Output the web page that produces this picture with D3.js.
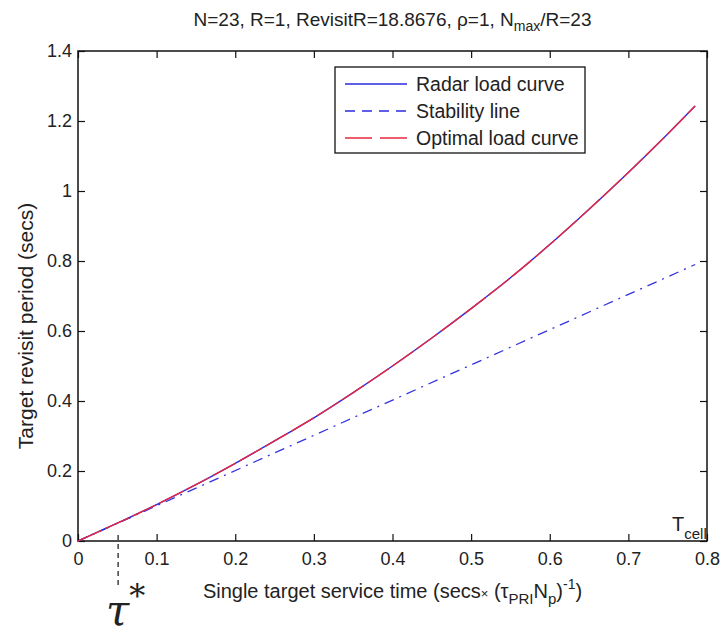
<!DOCTYPE html>
<html>
<head>
<meta charset="utf-8">
<script src="https://cdn.jsdelivr.net/npm/d3@7"></script>
<style>
  body { margin: 0; background: #fff; }
  svg text { font-family: "Liberation Sans", Arial, sans-serif; fill: #222; }
</style>
</head>
<body>
<div id="vis"></div>
<script>
// Values
const RADAR_X = [0, 0.05, 0.1, 0.15, 0.2, 0.25, 0.3, 0.35, 0.4, 0.45, 0.5, 0.55, 0.6, 0.65, 0.7, 0.75, 0.785];
const RADAR_Y = [0, 0.051, 0.104, 0.161, 0.222, 0.286, 0.352, 0.424, 0.5, 0.58, 0.664, 0.752, 0.847, 0.948, 1.053, 1.163, 1.243];
const OPTIMAL_Y = [0, 0.051, 0.104, 0.161, 0.222, 0.286, 0.352, 0.424, 0.5, 0.58, 0.664, 0.752, 0.847, 0.948, 1.053, 1.163, 1.243];
const STABILITY_X = [0, 0.785];
const STABILITY_Y = [0, 0.79];
const X_TICKS = [0, 0.1, 0.2, 0.3, 0.4, 0.5, 0.6, 0.7, 0.8];
const Y_TICKS = [0, 0.2, 0.4, 0.6, 0.8, 1, 1.2, 1.4];
const TAU_STAR = 0.051;
const LEGEND_LABELS = ["Radar load curve", "Stability line", "Optimal load curve"];

// Frame and margins
const FRAME_WIDTH = 725;
const FRAME_HEIGHT = 636;
const MARGINS = {left: 78, right: 18, top: 51, bottom: 95};
const VIS_WIDTH = FRAME_WIDTH - MARGINS.left - MARGINS.right;
const VIS_HEIGHT = FRAME_HEIGHT - MARGINS.top - MARGINS.bottom;

const FRAME = d3.select("#vis")
  .append("svg")
    .attr("width", FRAME_WIDTH)
    .attr("height", FRAME_HEIGHT);

const X_SCALE = d3.scaleLinear().domain([0, 0.8]).range([0, VIS_WIDTH]);
const Y_SCALE = d3.scaleLinear().domain([0, 1.4]).range([VIS_HEIGHT, 0]);

const PLOT = FRAME.append("g")
  .attr("transform", "translate(" + MARGINS.left + "," + MARGINS.top + ")");

// Axes with inward ticks, mirrored on top and right (matlab box)
function styleAxis(g) {
  g.select(".domain").remove();
  g.selectAll(".tick line").attr("stroke", "#111").attr("stroke-width", 1.2);
  g.selectAll(".tick text").style("font-size", "18px").attr("fill", "#222");
}

PLOT.append("g")
  .attr("transform", "translate(0," + VIS_HEIGHT + ")")
  .call(d3.axisBottom(X_SCALE).tickValues(X_TICKS).tickSize(-7).tickPadding(11).tickFormat(d3.format("")))
  .call(styleAxis);

PLOT.append("g")
  .call(d3.axisLeft(Y_SCALE).tickValues(Y_TICKS).tickSize(-7).tickPadding(6).tickFormat(d3.format("")))
  .call(styleAxis);

PLOT.append("g")
  .call(d3.axisTop(X_SCALE).tickValues(X_TICKS).tickSize(-7).tickFormat(""))
  .call(styleAxis);

PLOT.append("g")
  .attr("transform", "translate(" + VIS_WIDTH + ",0)")
  .call(d3.axisRight(Y_SCALE).tickValues(Y_TICKS).tickSize(-7).tickFormat(""))
  .call(styleAxis);

PLOT.append("rect")
  .attr("width", VIS_WIDTH)
  .attr("height", VIS_HEIGHT)
  .attr("fill", "none")
  .attr("stroke", "#111")
  .attr("stroke-width", 1.5);

// Lines
const line = d3.line()
  .x((d) => X_SCALE(d[0]))
  .y((d) => Y_SCALE(d[1]));

const curve = d3.line()
  .curve(d3.curveMonotoneX)
  .x((d) => X_SCALE(d[0]))
  .y((d) => Y_SCALE(d[1]));

const radar = RADAR_X.map((x, i) => [x, RADAR_Y[i]]);
const optimal = RADAR_X.map((x, i) => [x, OPTIMAL_Y[i]]);
const stability = STABILITY_X.map((x, i) => [x, STABILITY_Y[i]]);

PLOT.append("path")
  .datum(stability)
  .attr("d", line)
  .attr("fill", "none")
  .attr("stroke", "#3535e0")
  .attr("stroke-width", 1.3)
  .attr("stroke-dasharray", "10,6,2,6");

PLOT.append("path")
  .datum(radar)
  .attr("d", curve)
  .attr("fill", "none")
  .attr("stroke", "#2a2ae0")
  .attr("stroke-width", 1.4);

PLOT.append("path")
  .datum(optimal)
  .attr("d", curve)
  .attr("fill", "none")
  .attr("stroke", "#e8283c")
  .attr("stroke-width", 1.4)
  .attr("stroke-dasharray", "26,4");

// Legend
const LEG = FRAME.append("g").attr("transform", "translate(335,67)");
LEG.append("rect")
  .attr("width", 250)
  .attr("height", 86)
  .attr("fill", "#fff")
  .attr("stroke", "#111")
  .attr("stroke-width", 1.3);

const legendStyles = [
  {color: "#2a2ae0", dash: null},
  {color: "#2a2ae0", dash: "10,7"},
  {color: "#e8283c", dash: "27,8"}
];

LEGEND_LABELS.forEach((label, i) => {
  const y = 17 + i * 27;
  LEG.append("line")
    .attr("x1", 10).attr("x2", 72)
    .attr("y1", y).attr("y2", y)
    .attr("stroke", legendStyles[i].color)
    .attr("stroke-width", 1.3)
    .attr("stroke-dasharray", legendStyles[i].dash);
  LEG.append("text")
    .attr("x", 81)
    .attr("y", y + 7)
    .style("font-size", "19.5px")
    .text(label);
});

// Title
const title = FRAME.append("text")
  .attr("x", MARGINS.left + VIS_WIDTH / 2)
  .attr("y", 26)
  .attr("text-anchor", "middle")
  .style("font-size", "19px");
title.append("tspan").text("N=23, R=1, RevisitR=18.8676, \u03c1=1, N");
title.append("tspan").attr("dy", 5).style("font-size", "14px").text("max");
title.append("tspan").attr("dy", -5).text("/R=23");

// x axis label
const xlab = FRAME.append("text")
  .attr("x", MARGINS.left + VIS_WIDTH / 2)
  .attr("y", 598)
  .attr("text-anchor", "middle")
  .style("font-size", "20px");
xlab.append("tspan").text("Single target service time (secs");
xlab.append("tspan").style("font-size", "13px").text("\u00d7");
xlab.append("tspan").text(" (\u03c4");
xlab.append("tspan").attr("dy", 6).style("font-size", "15px").text("PRI");
xlab.append("tspan").attr("dy", -6).text("N");
xlab.append("tspan").attr("dy", 6).style("font-size", "15px").text("p");
xlab.append("tspan").attr("dy", -6).text(")");
xlab.append("tspan").attr("dy", -9).style("font-size", "14px").text("-1");
xlab.append("tspan").attr("dy", 9).text(")");

// y axis label
FRAME.append("text")
  .attr("transform", "translate(33,326) rotate(-90)")
  .attr("text-anchor", "middle")
  .style("font-size", "21px")
  .text("Target revisit period (secs)");

// T_cell label
const tcell = FRAME.append("text")
  .attr("x", 672)
  .attr("y", 531)
  .style("font-size", "20px");
tcell.append("tspan").text("T");
tcell.append("tspan").attr("dy", 8).style("font-size", "15px").text("cell");

// tau* marker
FRAME.append("line")
  .attr("x1", MARGINS.left + X_SCALE(TAU_STAR))
  .attr("x2", MARGINS.left + X_SCALE(TAU_STAR))
  .attr("y1", MARGINS.top + VIS_HEIGHT - 6)
  .attr("y2", 585)
  .attr("stroke", "#111")
  .attr("stroke-width", 1.2)
  .attr("stroke-dasharray", "5,4");

const tau = FRAME.append("text")
  .attr("x", 106)
  .attr("y", 625)
  .style("font-family", "'DejaVu Serif', serif")
  .style("font-style", "italic")
  .style("font-size", "42px");
tau.append("tspan").text("\u03c4");
tau.append("tspan").attr("dy", -18).style("font-style", "normal").style("font-size", "32px").text("*");
</script>
</body>
</html>
